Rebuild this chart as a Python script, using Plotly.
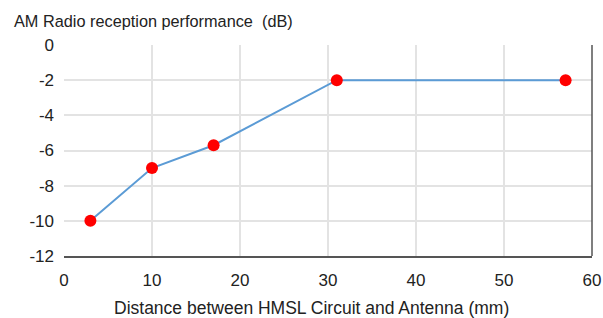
import plotly.graph_objects as go

distance_mm = [3, 10, 17, 31, 57]
reception_db = [-10, -7, -5.7, -2, -2]
x_ticks = [0, 10, 20, 30, 40, 50, 60]
y_ticks = [0, -2, -4, -6, -8, -10, -12]
y_tick_text = ["0", "-2", "-4", "-6", "-8", "-10", "-12"]

fig = go.Figure()
fig.add_trace(go.Scatter(
    x=distance_mm, y=reception_db, mode="lines+markers",
    line=dict(color="#5B9BD5", width=2),
    marker=dict(color="#FF0000", size=12),
    showlegend=False, cliponaxis=False,
))

fam = "Liberation Sans, Arial, sans-serif"
col = "#222222"

fig.update_layout(
    width=603, height=318,
    margin=dict(l=64, r=11, t=45, b=62, autoexpand=False),
    paper_bgcolor="white", plot_bgcolor="white",
    font=dict(family=fam, size=17, color=col),
    xaxis=dict(
        range=[0, 60], tickvals=x_ticks, showgrid=True, gridcolor="#E3E3E3", gridwidth=1.5,
        zeroline=False, showline=True, linecolor="#555555", linewidth=1.5,
        ticklabelstandoff=8, automargin=False,
        tickfont=dict(family=fam, size=17, color=col),
    ),
    yaxis=dict(
        range=[-12, 0], tickvals=y_ticks, ticktext=y_tick_text, showgrid=True,
        gridcolor="#E3E3E3", gridwidth=1.5,
        zeroline=False, showline=False, ticklabelstandoff=9, automargin=False,
        tickfont=dict(family=fam, size=17, color=col),
    ),
    annotations=[
        dict(text="AM Radio reception performance  (dB)", xref="paper", yref="paper",
             x=-0.0985, y=1.114, xanchor="left", yanchor="middle",
             showarrow=False, font=dict(family=fam, size=16.3, color=col)),
        dict(text="Distance between HMSL Circuit and Antenna (mm)", xref="paper", yref="paper",
             x=0.468, y=-0.247, xanchor="center", yanchor="middle",
             showarrow=False, font=dict(family=fam, size=17.5, color=col)),
    ],
    shapes=[dict(type="line", xref="x domain", yref="y domain", x0=1, x1=1, y0=0, y1=1,
                 line=dict(color="#555555", width=1.5))],
)

fig.write_html("out.html", config={"displayModeBar": False},
               post_script="document.body.style.margin='0';document.body.style.overflow='hidden';")
